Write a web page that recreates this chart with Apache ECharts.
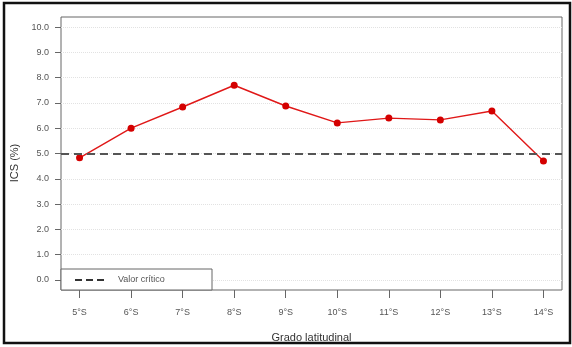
<!DOCTYPE html>
<html>
<head>
<meta charset="utf-8">
<script src="https://cdn.jsdelivr.net/npm/echarts@6/dist/echarts.min.js"></script>
<style>
  html, body { margin: 0; padding: 0; background: #fff; }
  #main { width: 572px; height: 347px; }
</style>
</head>
<body>
<div id="main"></div>
<script>
// grados de latitud
var grados = ["5°S", "6°S", "7°S", "8°S", "9°S", "10°S", "11°S", "12°S", "13°S", "14°S"];
// ICS (%) por grado
var ics = [4.83, 6.0, 6.84, 7.7, 6.88, 6.21, 6.4, 6.33, 6.68, 4.7];
var valorCritico = 5.0;
var yTicks = [0, 1, 2, 3, 4, 5, 6, 7, 8, 9, 10];
var xTicks = [0, 1, 2, 3, 4, 5, 6, 7, 8, 9];

var myChart = echarts.init(document.getElementById("main"));

var puntos = ics.map(function (v, i) { return [i, v]; });

myChart.setOption({
  animation: false,
  textStyle: { fontFamily: "Liberation Sans, Arial, sans-serif" },
  grid: {
    left: 61, top: 17, width: 501, height: 273,
    outerBoundsMode: "none",
    containLabel: false,
    show: true, borderColor: "#666", borderWidth: 1
  },
  xAxis: {
    type: "value",
    min: -0.36, max: 9.36,
    name: "Grado latitudinal",
    nameLocation: "middle",
    nameGap: 42,
    nameTextStyle: { color: "#333", fontSize: 11 },
    axisLine: { show: false, onZero: false },
    axisTick: { show: true, customValues: xTicks, length: 8, lineStyle: { color: "#666" } },
    axisLabel: {
      customValues: xTicks, color: "#555", fontSize: 9, margin: 18,
      formatter: function (v) { return grados[Math.round(v)]; }
    },
    splitLine: { show: false }
  },
  yAxis: {
    type: "value",
    min: -0.4, max: 10.4,
    axisLine: { show: false, onZero: false },
    axisTick: { show: true, customValues: yTicks, length: 6, lineStyle: { color: "#666" } },
    axisLabel: {
      customValues: yTicks, color: "#555", fontSize: 9, margin: 12,
      formatter: function (v) { return v.toFixed(1); }
    },
    splitLine: { show: true, lineStyle: { color: "#e2e2e2", type: "dotted" } }
  },
  series: [
    {
      name: "ICS",
      type: "line",
      data: puntos,
      symbol: "circle",
      symbolSize: 7,
      itemStyle: { color: "#d40000" },
      lineStyle: { color: "#e01818", width: 1.4 },
      markLine: {
        silent: true,
        symbol: "none",
        label: { show: false },
        lineStyle: { color: "#555", width: 2, type: [8, 5] },
        data: [{ yAxis: valorCritico }]
      },
      z: 3
    }
  ],
  graphic: [
    // marco exterior
    { type: "rect", shape: { x: 4, y: 3, width: 566, height: 340 },
      style: { fill: null, stroke: "#111", lineWidth: 2.5 }, z: 10 },
    // titulo eje y
    { type: "text", x: 15, y: 163, rotation: Math.PI / 2,
      style: { text: "ICS (%)", fill: "#333", fontSize: 11, align: "center", verticalAlign: "middle",
               fontFamily: "Liberation Sans, Arial, sans-serif" }, z: 10 },
    // leyenda
    { type: "rect", shape: { x: 61, y: 269, width: 151, height: 21 },
      style: { fill: "#fff", stroke: "#666", lineWidth: 1 }, z: 10 },
    { type: "line", shape: { x1: 75, y1: 280, x2: 104, y2: 280 },
      style: { stroke: "#333", lineWidth: 2, lineDash: [7, 4] }, z: 11 },
    { type: "text", x: 118, y: 280,
      style: { text: "Valor crítico", fill: "#555", fontSize: 9, verticalAlign: "middle",
               fontFamily: "Liberation Sans, Arial, sans-serif" }, z: 11 }
  ]
});
</script>
</body>
</html>
